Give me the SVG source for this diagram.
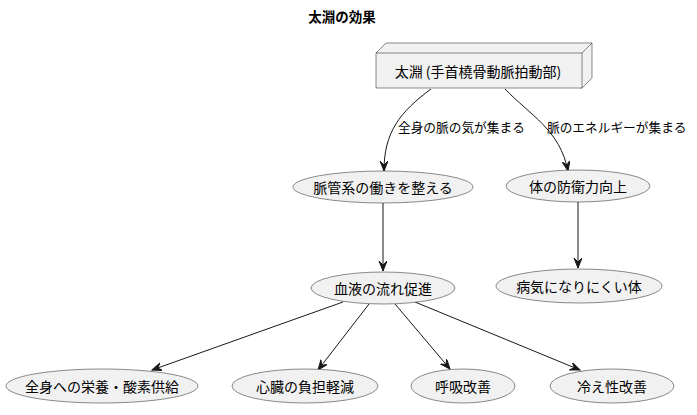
<svg xmlns="http://www.w3.org/2000/svg" width="697" height="415" viewBox="0 0 697 415">
<style>
text{font-family:"Noto Sans CJK JP","Noto Sans",sans-serif;fill:#000}
.n{font-size:14px;text-anchor:middle;dominant-baseline:central}
.l{font-size:12.7px}
.t{font-size:13.5px;font-weight:bold;text-anchor:middle}
ellipse,.box{fill:#F1F1F1;stroke:#181818;stroke-width:0.5}
.c{fill:none;stroke:#181818;stroke-width:1;marker-end:url(#ah)}
</style>
<defs>
<marker id="ah" markerUnits="userSpaceOnUse" markerWidth="12" markerHeight="10" refX="10" refY="4" orient="auto" viewBox="0 0 12 10">
<path d="M0,0 L10,4 L0,8 L4,4 Z" fill="#181818" stroke="#181818" stroke-width="1"/>
</marker>
</defs>
<rect width="697" height="415" fill="#fff"/>
<text class="t" x="342" y="22">太淵の効果</text>
<g id="connectors">
<path class="c" d="M431,89 C400,112 384,132 384,171"/>
<path class="c" d="M505,89 C530,115 560,130 568,171"/>
<path class="c" d="M383,203 L383,271"/>
<path class="c" d="M578,202 L578,268"/>
<path class="c" d="M343,302 L152,370"/>
<path class="c" d="M369,304 L318,370"/>
<path class="c" d="M395,304 L450,369"/>
<path class="c" d="M415,302 L580,370"/>
<text class="l" x="398" y="132">全身の脈の気が集まる</text>
<text class="l" x="547" y="132">脈のエネルギーが集まる</text>
</g>
<g id="taien">
<path class="box" d="M376,53 L386,43 L592,43 L592,78 L582,88 Z"/>
<rect class="box" x="376" y="53" width="206" height="35"/>
<path d="M582,53 L592,43" stroke="#181818" stroke-width="0.5"/>
<text class="n" x="478" y="71">太淵 (手首橈骨動脈拍動部)</text>
</g>
<g id="myakukan"><ellipse cx="383" cy="187" rx="90" ry="16"/><text class="n" x="383" y="187">脈管系の働きを整える</text></g>
<g id="bouei"><ellipse cx="578" cy="186" rx="72" ry="16"/><text class="n" x="578" y="186">体の防衛力向上</text></g>
<g id="ketsueki"><ellipse cx="383" cy="288" rx="72" ry="16"/><text class="n" x="383" y="288">血液の流れ促進</text></g>
<g id="byouki"><ellipse cx="579" cy="286" rx="83" ry="17"/><text class="n" x="579" y="286">病気になりにくい体</text></g>
<g id="eiyou"><ellipse cx="102" cy="386" rx="96" ry="17"/><text class="n" x="102" y="386">全身への栄養・酸素供給</text></g>
<g id="shinzou"><ellipse cx="305" cy="386" rx="73" ry="17"/><text class="n" x="305" y="386">心臓の負担軽減</text></g>
<g id="kokyuu"><ellipse cx="463" cy="386" rx="52" ry="17"/><text class="n" x="463" y="386">呼吸改善</text></g>
<g id="hie"><ellipse cx="612" cy="386" rx="62" ry="17"/><text class="n" x="612" y="386">冷え性改善</text></g>
</svg>
